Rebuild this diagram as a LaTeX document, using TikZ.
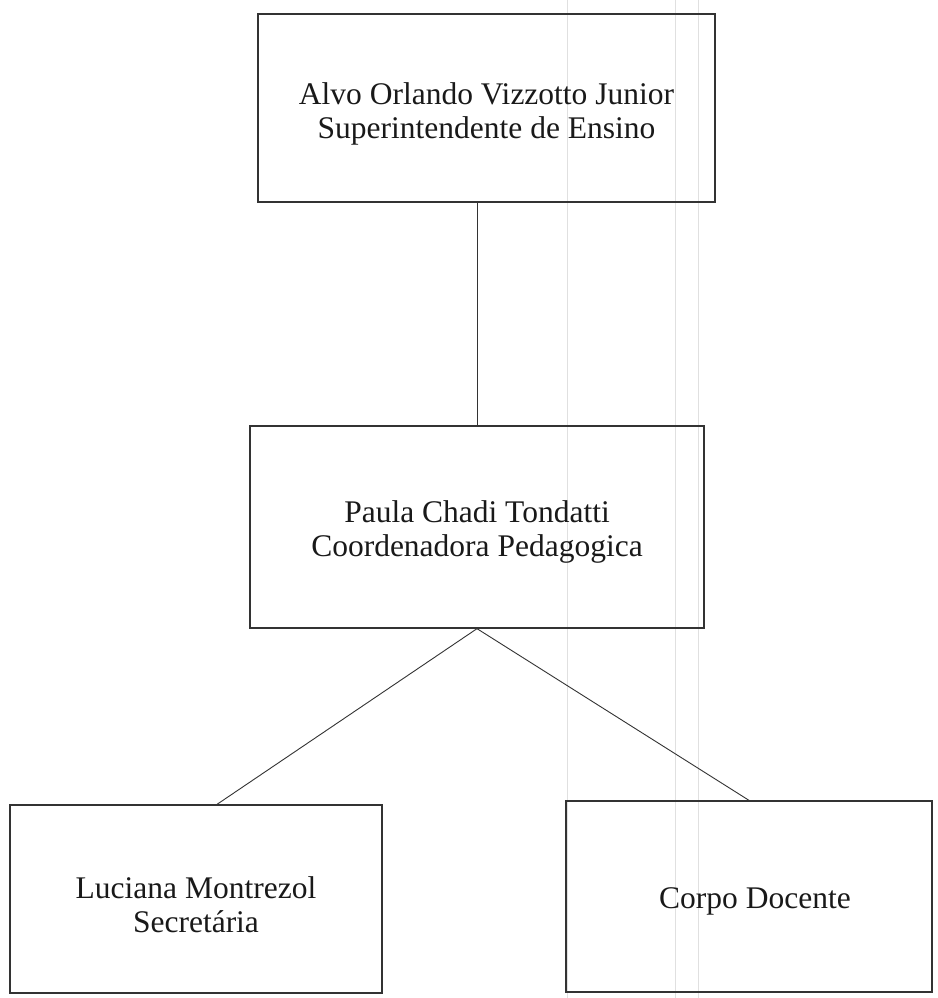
\documentclass[tikz,border=0pt]{standalone}
\usepackage{fontspec}
\setmainfont{Liberation Serif}
\begin{document}
\begin{tikzpicture}[x=1pt,y=-1pt,
  orgbox/.style={draw=black!80,line width=1.3pt,minimum width=#1,inner sep=0pt},
  boxtext/.style={inner sep=0pt,align=center,font=\fontsize{31.5}{34}\selectfont,text=black!90},
  link/.style={draw=black!80,line width=0.9pt},
  scanline/.style={draw=black!12,line width=0.8pt}]
\useasboundingbox[fill=white] (0,0) rectangle (937,998);
\draw[scanline] (567,0) -- (567,998);
\draw[scanline] (675,0) -- (675,998);
\draw[scanline] (698,0) -- (698,998);
\node[orgbox=457pt,minimum height=188pt] (top) at (486.5,108) {};
\node[orgbox=454pt,minimum height=202pt] (mid) at (477,527) {};
\node[orgbox=372pt,minimum height=188pt] (bl) at (196,899) {};
\node[orgbox=366pt,minimum height=191pt] (br) at (749,896.5) {};
\node[boxtext] (topt) at ([yshift=-5.5pt]top.center) {Alvo Orlando Vizzotto Junior\\Superintendente de Ensino};
\node[boxtext] (midt) at ([yshift=-5pt]mid.center) {Paula Chadi Tondatti\\Coordenadora Pedagogica};
\node[boxtext] (blt) at ([yshift=-6pt]bl.center) {Luciana Montrezol\\Secretária};
\node[boxtext] (brt) at ([xshift=6pt,yshift=-5pt]br.center) {Corpo Docente};
\draw[link] (mid.north) -- (mid.north |- top.south);
\draw[link] (mid.south) -- ([xshift=21pt]bl.north);
\draw[link] (mid.south) -- (br.north);
\end{tikzpicture}
\end{document}
